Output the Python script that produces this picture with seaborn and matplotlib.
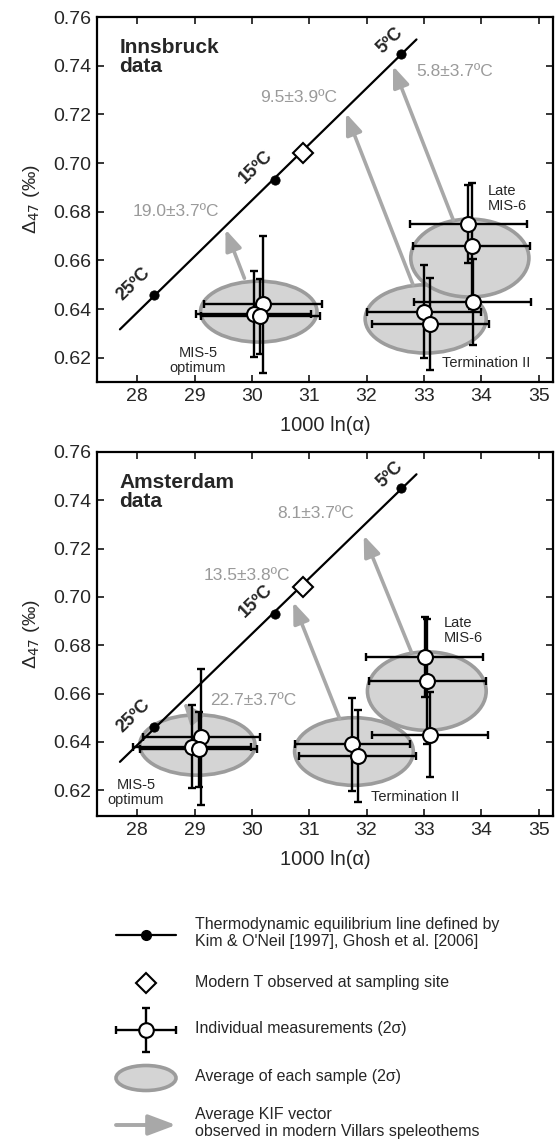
import numpy as np
import pandas as pd
import matplotlib
matplotlib.use("Agg")
import matplotlib.pyplot as plt
from matplotlib.patches import Ellipse
import seaborn as sns

# ---------------- data ----------------
eq_T = ["25ºC", "15ºC", "5ºC"]
eq_x = [28.3, 30.4, 32.6]
eq_y = [0.646, 0.693, 0.745]
eq_line_xrange = [27.7, 32.87]

modern_x = [30.9]
modern_y = [0.704]

groups = ["MIS-5", "MIS-5", "MIS-5", "TermII", "TermII", "LateMIS6", "LateMIS6", "LateMIS6"]

# Innsbruck individual measurements
inn_x = [30.20, 30.03, 30.15, 33.00, 33.11, 33.77, 33.83, 33.85]
inn_y = [0.642, 0.638, 0.637, 0.639, 0.634, 0.675, 0.666, 0.643]
inn_xerr = [1.03, 1.0, 1.03, 1.0, 1.02, 1.02, 1.02, 1.02]
inn_yerr = [0.028, 0.0175, 0.0155, 0.019, 0.019, 0.016, 0.026, 0.0175]

# Amsterdam individual measurements
ams_x = [29.12, 28.96, 29.07, 31.75, 31.85, 33.01, 33.06, 33.10]
ams_y = [0.642, 0.638, 0.637, 0.639, 0.634, 0.675, 0.665, 0.643]
ams_xerr = [1.02, 1.03, 1.02, 1.0, 1.02, 1.02, 1.02, 1.01]
ams_yerr = [0.028, 0.0172, 0.0155, 0.0193, 0.019, 0.0165, 0.026, 0.0175]

# sample averages (ellipses): centre x, centre y, 2-sigma width, 2-sigma height
inn_ell_cx = [30.12, 33.03, 33.80]
inn_ell_cy = [0.639, 0.636, 0.661]
inn_ell_w = [2.03, 2.11, 2.06]
inn_ell_h = [0.025, 0.028, 0.032]

ams_ell_cx = [29.05, 31.78, 33.05]
ams_ell_cy = [0.6387, 0.636, 0.661]
ams_ell_w = [2.01, 2.07, 2.07]
ams_ell_h = [0.025, 0.028, 0.0325]

# KIF vectors (tail -> head)
inn_arr_x0 = [29.87, 32.81, 33.51]
inn_arr_y0 = [0.6527, 0.650, 0.6767]
inn_arr_x1 = [29.54, 31.64, 32.46]
inn_arr_y1 = [0.6728, 0.7205, 0.7399]

ams_arr_x0 = [29.00, 31.53, 32.78]
ams_arr_y0 = [0.6505, 0.6496, 0.6772]
ams_arr_x1 = [28.80, 30.72, 31.95]
ams_arr_y1 = [0.6565, 0.6979, 0.7255]

# reconstructed temperatures
inn_temp_txt = ["19.0±3.7ºC", "9.5±3.9ºC", "5.8±3.7ºC"]
inn_temp_x = [28.67, 30.81, 33.54]
inn_temp_y = [0.680, 0.727, 0.7375]
ams_temp_txt = ["22.7±3.7ºC", "13.5±3.8ºC", "8.1±3.7ºC"]
ams_temp_x = [30.03, 29.92, 31.11]
ams_temp_y = [0.657, 0.7087, 0.7345]

# group labels
inn_grp_txt = ["MIS-5\noptimum", "Termination II", "Late\nMIS-6"]
inn_grp_x = [29.06, 34.09, 34.12]
inn_grp_y = [0.619, 0.6178, 0.6855]
ams_grp_txt = ["MIS-5\noptimum", "Termination II", "Late\nMIS-6"]
ams_grp_x = [27.98, 32.84, 33.35]
ams_grp_y = [0.619, 0.6172, 0.686]

panel_titles = ["Innsbruck\ndata", "Amsterdam\ndata"]
xticks = [28, 29, 30, 31, 32, 33, 34, 35]
yticks = [0.62, 0.64, 0.66, 0.68, 0.70, 0.72, 0.74, 0.76]

legend_labels = [
    "Thermodynamic equilibrium line defined by\nKim & O'Neil [1997], Ghosh et al. [2006]",
    "Modern T observed at sampling site",
    "Individual measurements (2σ)",
    "Average of each sample (2σ)",
    "Average KIF vector\nobserved in modern Villars speleothems",
]

# ---------------- style ----------------
sns.set_style("ticks")
plt.rcParams["font.family"] = ["Liberation Sans", "DejaVu Sans"]

GRAY_TXT = "#9a9a9a"
ARROW = "#a8a8a8"
ELL_FACE = "#d4d4d4"
ELL_EDGE = "#9c9c9c"

fig = plt.figure(figsize=(5.58, 11.42), dpi=100)
ax_top = fig.add_axes([97 / 558, 760 / 1142, 456 / 558, 365 / 1142])
ax_bot = fig.add_axes([97 / 558, 326 / 1142, 456 / 558, 364 / 1142])

coef = np.polyfit(eq_x, eq_y, 1)
line_df = pd.DataFrame({"x": eq_line_xrange, "y": np.polyval(coef, eq_line_xrange)})
eq_df = pd.DataFrame({"x": eq_x, "y": eq_y, "T": eq_T})


def draw_panel(ax, title, mx, my, mxe, mye, ecx, ecy, ew, eh,
               ax0, ay0, ax1, ay1, ttxt, tx, ty, gtxt, gx, gy, ylo):
    # ellipses
    for cx, cy, w, h in zip(ecx, ecy, ew, eh):
        ax.add_patch(Ellipse((cx, cy), w, h, facecolor=ELL_FACE,
                             edgecolor=ELL_EDGE, lw=2.6, zorder=1))
    # KIF arrows
    for x0, y0, x1, y1 in zip(ax0, ay0, ax1, ay1):
        ax.annotate("", xy=(x1, y1), xytext=(x0, y0),
                    arrowprops=dict(arrowstyle="-|>,head_length=0.9,head_width=0.35",
                                    color=ARROW, lw=2.6, shrinkA=0, shrinkB=0,
                                    mutation_scale=14), zorder=2)
    # equilibrium line
    sns.lineplot(data=line_df, x="x", y="y", ax=ax, color="black", lw=1.6,
                 zorder=3, legend=False)
    sns.scatterplot(data=eq_df, x="x", y="y", ax=ax, color="black", s=45,
                    edgecolor="black", zorder=4, legend=False)
    # temperature labels along the line
    offs = [(-0.36, 0.0045), (-0.33, 0.0055), (-0.2, 0.0055)]
    for (x, y, t), (dx, dy) in zip(zip(eq_x, eq_y, eq_T), offs):
        ax.text(x + dx, y + dy, t, rotation=44, fontsize=13, fontweight="bold",
                ha="center", va="center", zorder=5)
    # modern diamond
    ax.plot(modern_x, modern_y, marker="D", ms=10, mfc="white", mec="black",
            mew=1.5, ls="none", zorder=5)
    # individual measurements
    ax.errorbar(mx, my, xerr=mxe, yerr=mye, fmt="none", ecolor="black",
                elinewidth=1.7, capsize=3.2, capthick=1.7, zorder=6)
    pts = pd.DataFrame({"x": mx, "y": my, "g": groups})
    sns.scatterplot(data=pts, x="x", y="y", ax=ax, color="white", s=115,
                    edgecolor="black", linewidth=1.5, zorder=7, legend=False)
    # texts
    ax.text(27.69, 0.7515, title, fontsize=15, fontweight="bold", ha="left",
            va="top", linespacing=1.05, zorder=8)
    for t, x, y in zip(ttxt, tx, ty):
        ax.text(x, y, t, color=GRAY_TXT, fontsize=12.5, ha="center",
                va="center", zorder=8)
    for t, x, y in zip(gtxt, gx, gy):
        ax.text(x, y, t, fontsize=10.5, ha="left" if "Late" in t else "center",
                va="center", linespacing=1.05, zorder=8)
    ax.set_xlim(27.3, 35.25)
    ax.set_ylim(ylo, 0.76)
    ax.set_xticks(xticks)
    ax.set_yticks(yticks)
    ax.set_yticklabels([f"{v:.2f}" for v in yticks])
    ax.tick_params(direction="in", length=5, width=1.3, top=True, right=True,
                   labelsize=14, pad=4)
    for s in ax.spines.values():
        s.set_linewidth(1.6)
        s.set_color("black")
    ax.set_xlabel("1000 ln(α)", fontsize=14.5, labelpad=8)
    ax.set_ylabel("Δ$_{47}$ (‰)", fontsize=14, labelpad=8)


draw_panel(ax_top, panel_titles[0], inn_x, inn_y, inn_xerr, inn_yerr,
           inn_ell_cx, inn_ell_cy, inn_ell_w, inn_ell_h,
           inn_arr_x0, inn_arr_y0, inn_arr_x1, inn_arr_y1,
           inn_temp_txt, inn_temp_x, inn_temp_y,
           inn_grp_txt, inn_grp_x, inn_grp_y, 0.6101)
draw_panel(ax_bot, panel_titles[1], ams_x, ams_y, ams_xerr, ams_yerr,
           ams_ell_cx, ams_ell_cy, ams_ell_w, ams_ell_h,
           ams_arr_x0, ams_arr_y0, ams_arr_x1, ams_arr_y1,
           ams_temp_txt, ams_temp_x, ams_temp_y,
           ams_grp_txt, ams_grp_x, ams_grp_y, 0.6093)

# ---------------- legend (drawn in a pixel-coordinate overlay) ----------------
lg = fig.add_axes([0, 0, 1, 1], zorder=-1)
lg.set_xlim(0, 558)
lg.set_ylim(1142, 0)
lg.axis("off")
row_y = [935, 983, 1030, 1078, 1125]
text_y = [933, 983, 1029, 1077, 1123]
sx0, sx1, sxc = 116, 176, 146
lg.plot([sx0, sx1], [row_y[0]] * 2, color="black", lw=1.6)
lg.plot([sxc], [row_y[0]], marker="o", ms=7, color="black")
lg.plot([sxc], [row_y[1]], marker="D", ms=10, mfc="white", mec="black", mew=1.5)
lg.errorbar([sxc], [row_y[2]], xerr=[30], yerr=[22], fmt="none", ecolor="black",
            elinewidth=1.7, capsize=3.2, capthick=1.7)
lg.plot([sxc], [row_y[2]], marker="o", ms=10.5, mfc="white", mec="black", mew=1.5)
lg.add_patch(Ellipse((sxc, row_y[3]), 60, 25, facecolor=ELL_FACE,
                     edgecolor=ELL_EDGE, lw=2.6))
lg.annotate("", xy=(sx1, row_y[4]), xytext=(sx0, row_y[4]),
            arrowprops=dict(arrowstyle="-|>,head_length=1.2,head_width=0.45",
                            color=ARROW, lw=2.8, shrinkA=0, shrinkB=0,
                            mutation_scale=14))
for t, y in zip(legend_labels, text_y):
    lg.text(195, y, t, fontsize=11.5, ha="left", va="center", linespacing=1.2)

fig.savefig("out.png", dpi=100)
